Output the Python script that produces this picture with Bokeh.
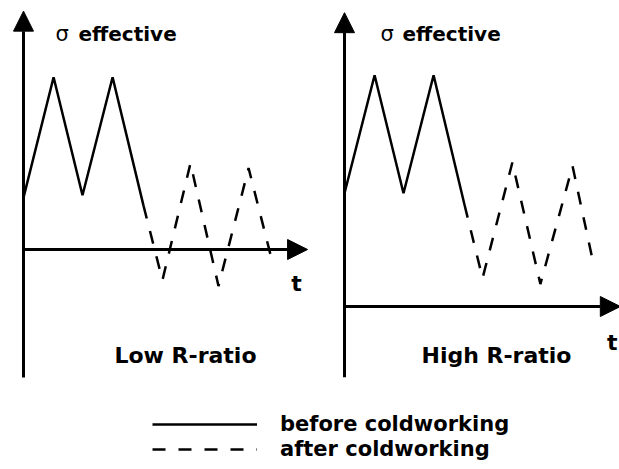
from bokeh.plotting import figure
from bokeh.models import Range1d, Arrow, NormalHead, Label, Legend, LegendItem
from bokeh.embed import file_html
from bokeh.resources import INLINE

# ---------------- data (time in half-cycles, stress in arbitrary units) ----------------
t_before = [0.0, 1.02, 2.0, 3.02, 4.07]
low_before = [4.4, 14.6, 4.6, 14.6, 3.7]
high_before = [9.6, 19.6, 9.6, 19.6, 8.6]

t_after_low = [4.07, 4.71, 5.66, 6.61, 7.63, 8.47]
low_after = [3.7, -2.6, 7.3, -3.1, 6.9, -1.4]

t_after_high = [4.07, 4.68, 5.69, 6.64, 7.73, 8.44]
high_after = [8.6, 2.4, 12.2, 1.9, 11.9, 3.6]

panel_titles = ["Low R-ratio", "High R-ratio"]
y_symbol = "σ"
y_label = "effective"
x_label = "t"
legend_labels = ["before coldworking", "after coldworking"]

# axis extents in data units (t axis end, stress axis bottom/top)
low_axis = {"t_end": 9.63, "s_bottom": -10.85, "s_top": 20.2}
high_axis = {"t_end": 9.35, "s_bottom": -6.0, "s_top": 24.9}

# ---------------- layout ----------------
W, H = 619, 469
M = 0                      # offset of the canvas in the picture
PX_T, PX_S = 29.5, 11.8    # pixels per data unit


def panel_ranges(ox, oy):
    x0 = -(ox - M) / PX_T
    y0 = -((M + H) - oy) / PX_S
    return Range1d(x0, x0 + W / PX_T), Range1d(y0, y0 + H / PX_S)


p = figure(width=W, height=H, x_range=Range1d(M, M + W), y_range=Range1d(M + H, M),
           output_backend="svg", toolbar_location=None, min_border=0,
           x_axis_location=None, y_axis_location=None, outline_line_color=None)
p.grid.visible = False

tL, sL = panel_ranges(23, 249)
tR, sR = panel_ranges(344, 306)
p.extra_x_ranges = {"tL": tL, "tR": tR}
p.extra_y_ranges = {"sL": sL, "sR": sR}

LW = 2.5
DASH = "13 13"

r_lb = p.line(t_before, low_before, x_range_name="tL", y_range_name="sL",
              line_color="black", line_width=LW)
r_la = p.line(t_after_low, low_after, x_range_name="tL", y_range_name="sL",
              line_color="black", line_width=LW, line_dash=DASH)
p.line(t_before, high_before, x_range_name="tR", y_range_name="sR",
       line_color="black", line_width=LW)
p.line(t_after_high, high_after, x_range_name="tR", y_range_name="sR",
       line_color="black", line_width=LW, line_dash=DASH)


def add_axes(xr, yr, ax):
    head = dict(size=20, fill_color="black", line_color="black")
    p.add_layout(Arrow(x_start=0, y_start=ax["s_bottom"], x_end=0, y_end=ax["s_top"],
                       x_range_name=xr, y_range_name=yr, line_width=3,
                       line_color="black", end=NormalHead(**head)))
    p.add_layout(Arrow(x_start=0, y_start=0, x_end=ax["t_end"], y_end=0,
                       x_range_name=xr, y_range_name=yr, line_width=3,
                       line_color="black", end=NormalHead(**head)))


add_axes("tL", "sL", low_axis)
add_axes("tR", "sR", high_axis)

FONT = "DejaVu Sans"


def label(x, y, text, size, bold=True, align="left", baseline="alphabetic"):
    p.add_layout(Label(x=x, y=y, text=text, text_font=FONT,
                       text_font_style="bold" if bold else "normal",
                       text_font_size=size, text_align=align,
                       text_baseline=baseline, text_color="black"))


# y-axis titles
label(55, 33, y_symbol, "21px", bold=False)
label(78, 33, y_label, "20px")
label(380, 33, y_symbol, "21px", bold=False)
label(402, 33, y_label, "20px")

# t labels
label(296, 283, x_label, "22px", align="center")
label(617, 342, x_label, "22px", align="right")

# panel titles
label(185, 355, panel_titles[0], "22px", align="center")
label(496, 355, panel_titles[1], "22px", align="center")

legend = Legend(items=[LegendItem(label=legend_labels[0], renderers=[r_lb]),
                       LegendItem(label=legend_labels[1], renderers=[r_la])],
                location=(152 - M, 8), glyph_width=105, glyph_height=20,
                label_standoff=23, spacing=1, padding=0, margin=0,
                border_line_color=None, background_fill_alpha=0,
                label_text_font=FONT, label_text_font_style="bold",
                label_text_font_size="21px", label_text_color="black")
p.add_layout(legend)

open("out.html", "w").write(file_html(p, INLINE))
